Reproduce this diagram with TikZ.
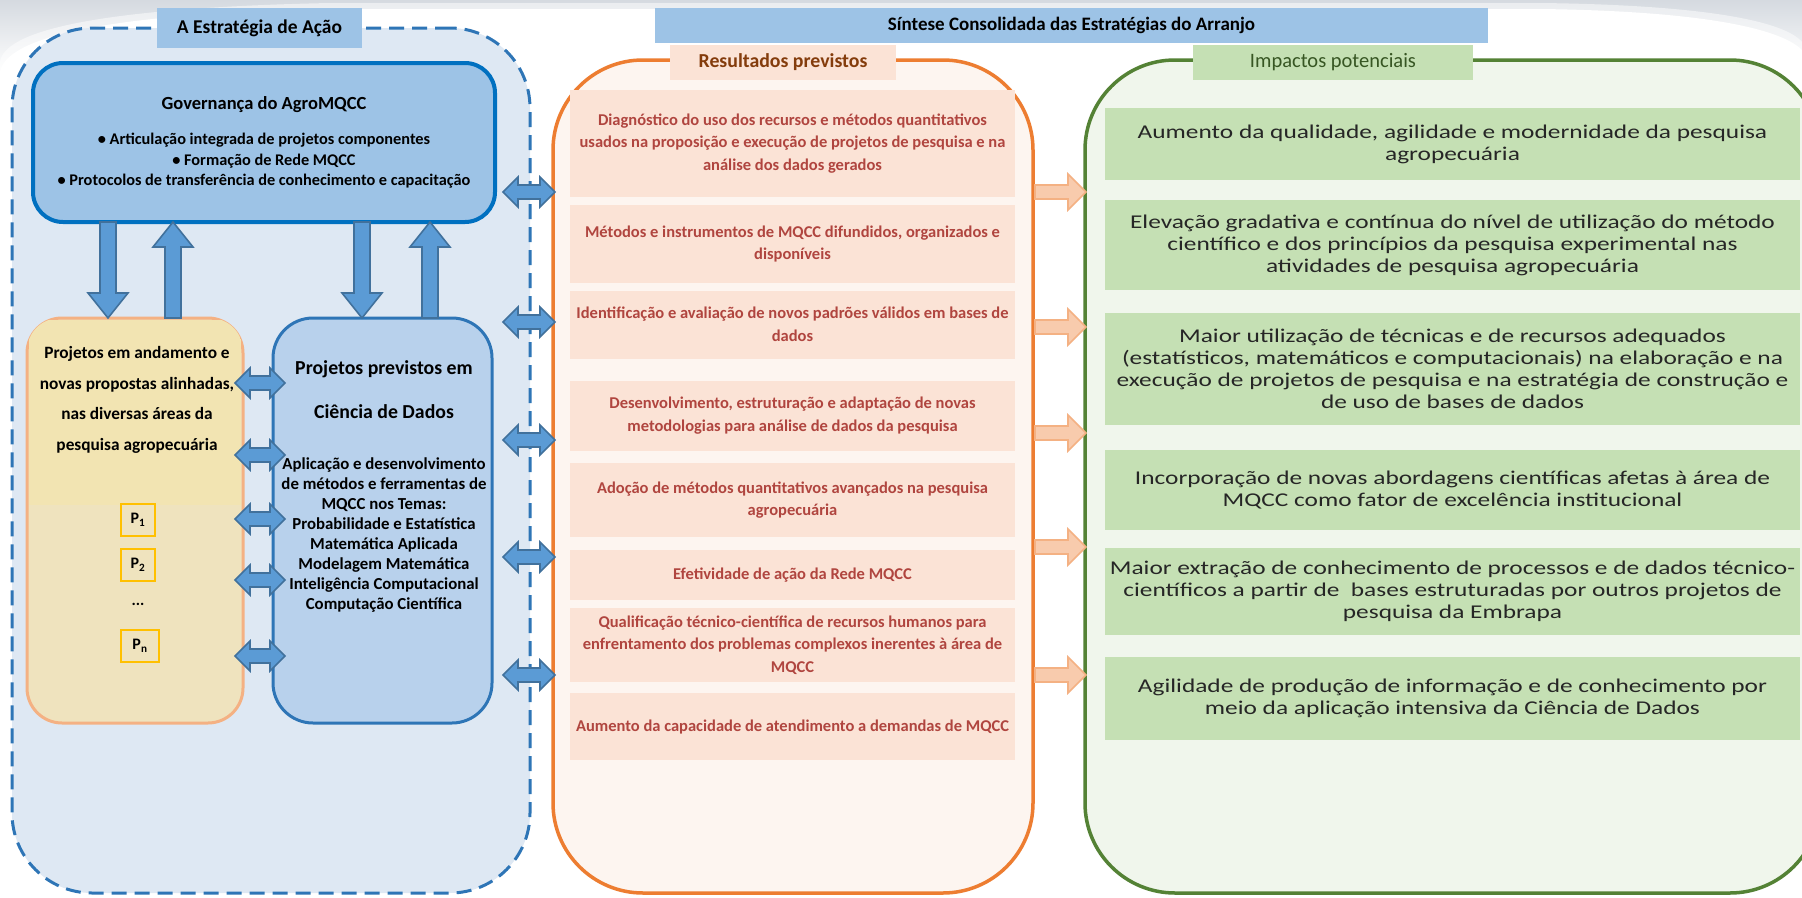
\documentclass[tikz,border=0pt]{standalone}
\usepackage{fontspec}
\setmainfont{Carlito}
\newfontfamily\rgtfont{Carlito}[FakeStretch=1.3]
\usetikzlibrary{calc}
\definecolor{outerfill}{HTML}{DEE8F3}
\definecolor{dashblue}{HTML}{2E75B6}
\definecolor{govfill}{HTML}{9DC3E6}
\definecolor{govline}{HTML}{0070C0}
\definecolor{yelfill}{HTML}{EFE3BE}
\definecolor{yeltop}{HTML}{F2E4B2}
\definecolor{yelline}{HTML}{F4B183}
\definecolor{pline}{HTML}{FFC000}
\definecolor{projfill}{HTML}{B8D1EC}
\definecolor{arrfill}{HTML}{5B9BD5}
\definecolor{arrline}{HTML}{41719C}
\definecolor{orline}{HTML}{ED7D31}
\definecolor{orfill}{HTML}{FDF5F0}
\definecolor{orbox}{HTML}{FBE3D6}
\definecolor{ortext}{HTML}{B0453F}
\definecolor{orhead}{HTML}{843C0C}
\definecolor{grline}{HTML}{548235}
\definecolor{grfill}{HTML}{F0F6EC}
\definecolor{grbox}{HTML}{C5E0B4}
\definecolor{grhead}{HTML}{375623}
\definecolor{oarrfill}{HTML}{F8CBAD}
\definecolor{oarrline}{HTML}{F4B183}
\definecolor{shadowgrey}{HTML}{D5DAE0}
% double horizontal block arrow between two points (same y as first)
\newcommand\dhblock[3][]{\path[#1] let \p1=(#2), \p2=(#3) in
  (\x1,\y1) -- (\x1+15pt,\y1+15pt) -- (\x1+15pt,\y1+7pt) -- (\x2-15pt,\y1+7pt) -- (\x2-15pt,\y1+15pt)
  -- (\x2,\y1) -- (\x2-15pt,\y1-15pt) -- (\x2-15pt,\y1-7pt) -- (\x1+15pt,\y1-7pt) -- (\x1+15pt,\y1-15pt) -- cycle;}
% vertical single block arrow from tail to tip
\newcommand\vblock[3][]{\path[#1] let \p1=(#2), \p2=(#3), \n1={sign(\y1-\y2)} in
  (\x1-8pt,\y1) -- (\x1-8pt,\y2+\n1*25pt) -- (\x1-20pt,\y2+\n1*25pt) -- (\x1,\y2)
  -- (\x1+20pt,\y2+\n1*25pt) -- (\x1+8pt,\y2+\n1*25pt) -- (\x1+8pt,\y1) -- cycle;}
% horizontal single block arrow to the right
\newcommand\hblock[3][]{\path[#1] let \p1=(#2), \p2=(#3) in
  (\x1,\y1+7pt) -- (\x2-18pt,\y1+7pt) -- (\x2-18pt,\y1+18pt) -- (\x2,\y1)
  -- (\x2-18pt,\y1-18pt) -- (\x2-18pt,\y1-7pt) -- (\x1,\y1-7pt) -- cycle;}
\begin{document}
\begin{tikzpicture}[x=1pt,y=-1pt,
  every node/.style={inner sep=0pt,outer sep=0pt},
  bx/.style={rectangle},
  bluearrow/.style={fill=arrfill,draw=arrline,line width=1.6pt,line join=miter},
  orarrow/.style={fill=oarrfill,draw=oarrline,line width=1.6pt},
  midtxt/.style={align=center,text=ortext,font=\fontsize{16.5}{22.5}\selectfont\bfseries},
  rgttxt/.style={align=center,text=black!85,font=\rgtfont\fontsize{19.5}{22}\selectfont},
  item/.style={bx,fill=orbox,minimum width=445pt},
  gitem/.style={bx,fill=grbox,minimum width=695pt},
  pbox/.style={bx,draw=pline,line width=1.6pt,minimum height=32pt,font=\fontsize{16}{18}\selectfont\bfseries}
]
\useasboundingbox (0,0) rectangle (1802,897);
\clip (0,0) rectangle (1802,897);
% top shadow
\shade[top color=shadowgrey,bottom color=white] (0,0) rectangle (1802,75);
\fill[white,opacity=0.5] (0,897) -- (0,62) .. controls (4,32) and (90,8) .. (330,3) -- (1540,3)
  .. controls (1710,5) and (1785,22) .. (1802,42) -- (1802,897) -- cycle;
\fill[white] (0,897) -- (0,72) .. controls (6,38) and (100,14) .. (330,9) -- (1540,9)
  .. controls (1700,11) and (1780,28) .. (1802,50) -- (1802,897) -- cycle;

% ---------- left part ----------
\node[bx,fill=outerfill,draw=dashblue,line width=3pt,dash pattern=on 15pt off 8pt,
  rounded corners=80pt,minimum width=518pt,minimum height=865pt] (outer) at (271,460.5) {};
\node[bx,fill=govfill,minimum width=205pt,minimum height=40pt,
  font=\fontsize{19.5}{22}\selectfont\bfseries] (ttl) at (259.5,28) {A Estratégia de Ação};
\node[bx,fill=govfill,draw=govline,line width=4pt,rounded corners=30pt,
  minimum width=462pt,minimum height=159pt] (gov) at (264,142.5) {};
\node[font=\fontsize{18.5}{22}\selectfont\bfseries] (govt) at (264,105) {Governança do AgroMQCC};
\node[align=center,font=\fontsize{16.3}{20.5}\selectfont\bfseries] (govb) at (264,161)
  {• Articulação integrada de projetos componentes\\• Formação de Rede MQCC\\• Protocolos de transferência de conhecimento e capacitação};

\node[bx,fill=yelfill,draw=yelline,line width=3pt,rounded corners=35pt,
  minimum width=216pt,minimum height=405pt] (yel) at (135,520.5) {};
\begin{scope}
  \clip[rounded corners=33pt] (yel.north west) rectangle (yel.south east);
  \fill[yeltop] ($(yel.north west)+(2,2)$) rectangle ($(yel.east |- 0,505)+(-2,0)$);
\end{scope}
\node[align=center,font=\fontsize{17.3}{30.5}\selectfont\bfseries] (yelt) at (137,400)
  {Projetos em andamento e\\novas propostas alinhadas,\\nas diversas áreas da\\pesquisa agropecuária};
\node[pbox,minimum width=34pt] (p1) at (138,520) {P\textsubscript{1}};
\node[pbox,minimum width=34pt] (p2) at (138,565) {P\textsubscript{2}};
\node[font=\fontsize{16}{18}\selectfont\bfseries] (pdots) at (138,604) {...};
\node[pbox,minimum width=38pt] (pn) at (140,646) {P\textsubscript{n}};

\node[bx,fill=projfill,draw=dashblue,line width=3pt,rounded corners=40pt,
  minimum width=219pt,minimum height=405pt] (proj) at (382.5,520.5) {};
\node[align=center,font=\fontsize{19.8}{44}\selectfont\bfseries] (projt) at (384,390)
  {Projetos previstos em\\Ciência de Dados};
\node[align=center,font=\fontsize{16.8}{19.9}\selectfont\bfseries] (projb) at (384,535)
  {Aplicação e desenvolvimento\\de métodos e ferramentas de\\MQCC nos Temas:\\Probabilidade e Estatística\\Matemática Aplicada\\Modelagem Matemática\\Inteligência Computacional\\Computação Científica};

% vertical arrows gov <-> projects
\coordinate (va) at (108,0); \coordinate (vb) at (173,0);
\coordinate (vc) at (362,0); \coordinate (vd) at (430,0);
\vblock[bluearrow]{gov.south -| va}{yel.north -| va}
\vblock[bluearrow]{yel.north -| vb}{gov.south -| vb}
\vblock[bluearrow]{gov.south -| vc}{proj.north -| vc}
\vblock[bluearrow]{proj.north -| vd}{gov.south -| vd}

% double arrows yellow <-> blue
\foreach \yy in {383,455,519,580,656}{
  \coordinate (hy) at (0,\yy);
  \dhblock[bluearrow]{$(yel.east |- hy)+(-8,0)$}{$(proj.west |- hy)+(12,0)$}
}

% ---------- middle part ----------
\node[bx,fill=orfill,draw=orline,line width=3.5pt,rounded corners=90pt,
  minimum width=480pt,minimum height=833pt] (mid) at (793,476.5) {};
\node[bx,fill=orbox,minimum width=226pt,minimum height=35pt,text=orhead,
  font=\fontsize{19.8}{22}\selectfont\bfseries] (midh) at (783,62.5) {Resultados previstos};
\node[item,minimum height=107pt,midtxt] (m1) at (792.5,143.5)
  {Diagnóstico do uso dos recursos e métodos quantitativos\\usados na proposição e execução de projetos de pesquisa e na\\análise dos dados gerados};
\node[item,minimum height=78pt,midtxt] (m2) at (792.5,244)
  {Métodos e instrumentos de MQCC difundidos, organizados e\\disponíveis};
\node[item,minimum height=68pt,midtxt] (m3) at (792.5,324.5)
  {Identificação e avaliação de novos padrões válidos em bases de\\dados};
\node[item,minimum height=70pt,midtxt] (m4) at (792.5,415.5)
  {Desenvolvimento, estruturação e adaptação de novas\\metodologias para análise de dados da pesquisa};
\node[item,minimum height=74pt,midtxt] (m5) at (792.5,500)
  {Adoção de métodos quantitativos avançados na pesquisa\\agropecuária};
\node[item,minimum height=50pt,midtxt] (m6) at (792.5,575)
  {Efetividade de ação da Rede MQCC};
\node[item,minimum height=74pt,midtxt] (m7) at (792.5,645)
  {Qualificação técnico-científica de recursos humanos para\\enfrentamento dos problemas complexos inerentes à área de\\MQCC};
\node[item,minimum height=67pt,midtxt] (m8) at (792.5,726.5)
  {Aumento da capacidade de atendimento a demandas de MQCC};

% double arrows left part <-> middle
\foreach \yy in {192,322,440,557,675}{
  \coordinate (hy) at (0,\yy);
  \dhblock[bluearrow]{$(outer.east |- hy)+(-27,0)$}{$(mid.west |- hy)+(2,0)$}
}

% ---------- right part ----------
\node[bx,fill=grfill,draw=grline,line width=3.5pt,rounded corners=90pt,
  minimum width=735pt,minimum height=833pt] (rgt) at (1452.5,476.5) {};
\node[bx,fill=grbox,minimum width=280pt,minimum height=35pt,text=grhead,
  font=\fontsize{20.5}{22}\selectfont] (rgth) at (1333,62.5) {Impactos potenciais};
\node[gitem,minimum height=72pt,rgttxt] (g1) at (1452.5,144)
  {Aumento da qualidade, agilidade e modernidade da pesquisa\\agropecuária};
\node[gitem,minimum height=90pt,rgttxt] (g2) at (1452.5,245)
  {Elevação gradativa e contínua do nível de utilização do método\\científico e dos princípios da pesquisa experimental nas\\atividades de pesquisa agropecuária};
\node[gitem,minimum height=112pt,rgttxt] (g3) at (1452.5,369)
  {Maior utilização de técnicas e de recursos adequados\\(estatísticos, matemáticos e computacionais) na elaboração e na\\execução de projetos de pesquisa e na estratégia de construção e\\de uso de bases de dados};
\node[gitem,minimum height=80pt,rgttxt] (g4) at (1452.5,490)
  {Incorporação de novas abordagens científicas afetas à área de\\MQCC como fator de excelência institucional};
\node[gitem,minimum height=87pt,rgttxt] (g5) at (1452.5,591.5)
  {Maior extração de conhecimento de processos e de dados técnico-\\científicos a partir de\ \ bases estruturadas por outros projetos de\\pesquisa da Embrapa};
\node[gitem,minimum height=83pt,rgttxt] (g6) at (1452.5,698.5)
  {Agilidade de produção de informação e de conhecimento por\\meio da aplicação intensiva da Ciência de Dados};

% orange arrows middle -> right
\foreach \yy in {192,327,433,547,675}{
  \coordinate (hy) at (0,\yy);
  \hblock[orarrow]{$(mid.east |- hy)+(2,0)$}{$(rgt.west |- hy)+(1,0)$}
}

% top title bar
\node[bx,fill=govfill,minimum width=833pt,minimum height=35pt,
  font=\fontsize{19}{22}\selectfont\bfseries] (sint) at (1071.5,25.5)
  {Síntese Consolidada das Estratégias do Arranjo};
\end{tikzpicture}
\end{document}
